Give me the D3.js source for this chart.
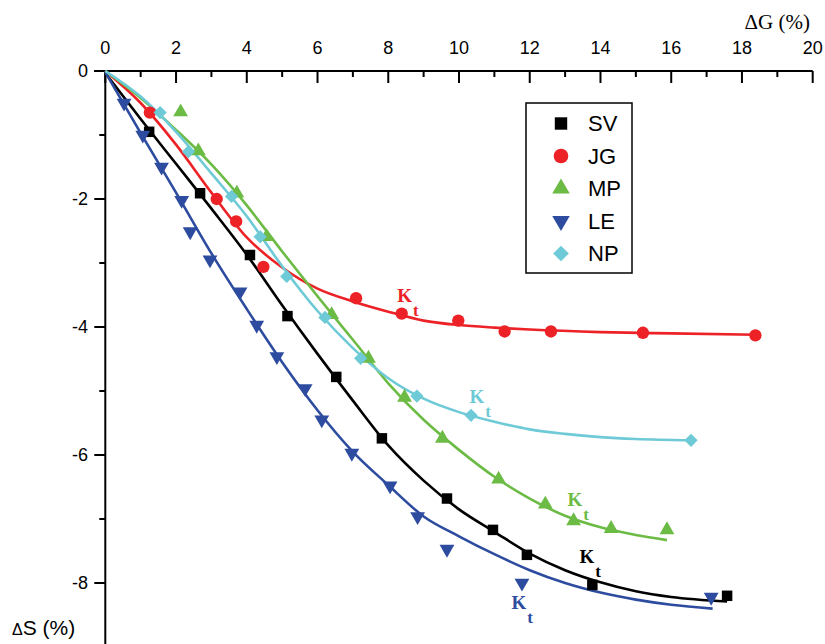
<!DOCTYPE html>
<html>
<head>
<meta charset="utf-8">
<script src="https://cdn.jsdelivr.net/npm/d3@7"></script>
<style>
  body { margin: 0; background: #fff; }
  svg { display: block; }
</style>
</head>
<body>
<div id="chart"></div>
<script>
// axes
let xTicks = [0, 2, 4, 6, 8, 10, 12, 14, 16, 18, 20];
let yTicks = [0, -2, -4, -6, -8];

// series names and colours
let names = ["SV", "JG", "MP", "LE", "NP"];
let colors = ["#000000", "#ec2227", "#6cbb45", "#2e4c9f", "#6dcad6"];

// measured points [ΔG, ΔS]
let svPoints = [[1.24,-0.95],[2.68,-1.91],[4.09,-2.875],[5.15,-3.83],[6.53,-4.78],[7.82,-5.74],[9.66,-6.68],[10.96,-7.17],[11.92,-7.56],[13.77,-8.03],[17.58,-8.2]];
let jgPoints = [[1.26,-0.65],[3.15,-2.0],[3.70,-2.35],[4.47,-3.06],[7.09,-3.55],[8.38,-3.79],[9.98,-3.9],[11.29,-4.07],[12.6,-4.07],[15.2,-4.09],[18.38,-4.13]];
let mpPoints = [[2.13,-0.64],[2.63,-1.25],[3.72,-1.91],[4.56,-2.59],[6.4,-3.81],[7.44,-4.49],[8.46,-5.1],[9.53,-5.74],[11.12,-6.38],[12.44,-6.77],[13.24,-7.03],[14.3,-7.15],[15.88,-7.17]];
let lePoints = [[0.53,-0.5],[1.06,-1.0],[1.59,-1.5],[2.16,-2.02],[2.40,-2.51],[2.96,-2.95],[3.81,-3.45],[4.28,-3.97],[4.85,-4.46],[5.65,-4.96],[6.12,-5.45],[6.97,-5.97],[8.05,-6.48],[8.83,-6.96],[9.66,-7.47],[11.78,-8.0],[17.13,-8.22]];
let npPoints = [[1.55,-0.65],[2.35,-1.26],[3.57,-1.96],[4.38,-2.59],[5.13,-3.21],[6.21,-3.85],[7.22,-4.49],[8.81,-5.08],[10.34,-5.38],[16.56,-5.77]];

// fitted curves
let svFit = [[0,-0.03],[1,-0.75],[2,-1.45],[3,-2.15],[4,-2.87],[5,-3.66],[6,-4.42],[7,-5.15],[8,-5.85],[9,-6.4],[10,-6.85],[11,-7.2],[12,-7.54],[13,-7.8],[14,-7.99],[15,-8.13],[16,-8.22],[17.58,-8.29]];
let jgFit = [[0,0],[1,-0.5],[2,-1.15],[3,-1.9],[4,-2.6],[5,-3.07],[6,-3.4],[7,-3.6],[8,-3.76],[9,-3.9],[10,-3.97],[11,-4.01],[12,-4.04],[14,-4.08],[16,-4.1],[18.4,-4.12]];
let mpFit = [[0,0],[1,-0.42],[2,-0.92],[3,-1.46],[4,-2.1],[5,-2.82],[6,-3.52],[7,-4.2],[8,-4.88],[9,-5.45],[10,-5.92],[11,-6.34],[12,-6.68],[13,-6.95],[14,-7.13],[15,-7.25],[15.88,-7.33]];
let leFit = [[0,-0.02],[1,-0.97],[2,-1.9],[3,-2.85],[4,-3.72],[5,-4.55],[6,-5.3],[7,-5.95],[8,-6.47],[9,-6.96],[10,-7.27],[11,-7.55],[12,-7.8],[13,-8.0],[14,-8.15],[15,-8.26],[16,-8.34],[17.17,-8.4]];
let npFit = [[0,0],[1,-0.4],[2,-0.95],[3,-1.6],[4,-2.27],[5,-3.05],[6,-3.75],[7,-4.33],[8,-4.8],[9,-5.12],[10,-5.33],[11,-5.48],[12,-5.6],[13,-5.67],[14,-5.72],[15,-5.75],[16.56,-5.77]];

// K_t labels, same order as names (centre of the K, data units)
let ktLabels = [[13.71,-7.59],[8.56,-3.5],[13.37,-6.69],[11.79,-8.31],[10.6,-5.09]];

let allPoints = [svPoints, jgPoints, mpPoints, lePoints, npPoints];
let allFits = [svFit, jgFit, mpFit, leFit, npFit];

let width = 825, height = 644;
let svg = d3.select("#chart").append("svg")
  .attr("width", width)
  .attr("height", height);

let x = d3.scaleLinear().domain([0, 20]).range([105.3, 812.7]);
let y = d3.scaleLinear().domain([0, -9]).range([71, 647]);

// top axis, ticks pointing into the plot
let xAxisG = svg.append("g");
xAxisG.append("line")
  .attr("x1", 94).attr("x2", x(20))
  .attr("y1", y(0)).attr("y2", y(0))
  .attr("stroke", "#000").attr("stroke-width", 2);
xAxisG.selectAll(".maj").data(xTicks).enter().append("line")
  .attr("x1", d => x(d)).attr("x2", d => x(d))
  .attr("y1", y(0)).attr("y2", y(0) + 12)
  .attr("stroke", "#000").attr("stroke-width", 2);
xAxisG.selectAll(".min").data(d3.range(1, 20, 2)).enter().append("line")
  .attr("x1", d => x(d)).attr("x2", d => x(d))
  .attr("y1", y(0)).attr("y2", y(0) + 6)
  .attr("stroke", "#000").attr("stroke-width", 2);
xAxisG.selectAll("text").data(xTicks).enter().append("text")
  .attr("x", d => x(d))
  .attr("y", 54)
  .attr("text-anchor", "middle")
  .style("font-family", "Liberation Sans, Arial, sans-serif")
  .style("font-size", "18px")
  .text(d => d);

// left axis, ticks pointing out
let yAxisG = svg.append("g");
yAxisG.append("line")
  .attr("x1", x(0)).attr("x2", x(0))
  .attr("y1", y(0)).attr("y2", height)
  .attr("stroke", "#000").attr("stroke-width", 2);
yAxisG.selectAll(".maj").data(yTicks).enter().append("line")
  .attr("x1", x(0) - 11).attr("x2", x(0))
  .attr("y1", d => y(d)).attr("y2", d => y(d))
  .attr("stroke", "#000").attr("stroke-width", 2);
yAxisG.selectAll(".min").data([-1, -3, -5, -7]).enter().append("line")
  .attr("x1", x(0) - 6).attr("x2", x(0))
  .attr("y1", d => y(d)).attr("y2", d => y(d))
  .attr("stroke", "#000").attr("stroke-width", 2);
yAxisG.selectAll("text").data(yTicks).enter().append("text")
  .attr("x", 88)
  .attr("y", d => y(d))
  .attr("dy", "0.35em")
  .attr("text-anchor", "end")
  .style("font-family", "Liberation Sans, Arial, sans-serif")
  .style("font-size", "18px")
  .text(d => d);

// axis titles
svg.append("text")
  .attr("x", 810).attr("y", 29)
  .attr("text-anchor", "end")
  .style("font-family", "Liberation Serif, Times New Roman, serif")
  .style("font-size", "21px")
  .text("ΔG (%)");
let ds = svg.append("text")
  .attr("x", 12).attr("y", 635)
  .style("font-family", "Liberation Sans, Arial, sans-serif")
  .style("font-size", "21px");
ds.append("tspan").style("font-size", "16px").text("Δ");
ds.append("tspan").text("S (%)");

// fitted lines
let line = d3.line()
  .x(d => x(d[0]))
  .y(d => y(d[1]))
  .curve(d3.curveMonotoneX);

for (let i = 0; i < allFits.length; i++) {
  svg.append("path")
    .attr("d", line(allFits[i]))
    .attr("fill", "none")
    .attr("stroke", colors[i])
    .attr("stroke-width", 2.6);
}

// marker shapes
function markerPath(i, big) {
  let k = big ? 1.4 : 1;
  if (i == 0) return d3.symbol(d3.symbolSquare, 110 * k)();
  if (i == 1) return d3.symbol(d3.symbolCircle, 120 * k)();
  if (i == 2 || i == 3) return d3.symbol(d3.symbolTriangle, 95 * k)();
  return d3.symbol(d3.symbolSquare, 88 * k)();
}
function markerRot(i) {
  if (i == 3) return " rotate(180)";
  if (i == 4) return " rotate(45)";
  return "";
}

for (let i = 0; i < allPoints.length; i++) {
  svg.append("g").selectAll("path").data(allPoints[i]).enter().append("path")
    .attr("d", markerPath(i, false))
    .attr("transform", d => "translate(" + x(d[0]) + "," + y(d[1]) + ")" + markerRot(i))
    .attr("fill", colors[i]);
}

// K_t annotations
for (let i = 0; i < ktLabels.length; i++) {
  let t = svg.append("text")
    .attr("x", x(ktLabels[i][0]))
    .attr("y", y(ktLabels[i][1]))
    .attr("dy", "0.35em")
    .attr("text-anchor", "middle")
    .attr("fill", colors[i])
    .style("font-family", "Liberation Serif, Times New Roman, serif")
    .style("font-weight", "bold")
    .style("font-size", "19px");
  t.append("tspan").text("K");
  t.append("tspan").attr("dx", "1").attr("dy", "14").style("font-size", "17px").text("t");
}

// legend
let legend = svg.append("g");
legend.append("rect")
  .attr("x", 526).attr("y", 103)
  .attr("width", 106).attr("height", 170)
  .attr("fill", "#fff")
  .attr("stroke", "#000")
  .attr("stroke-width", 1.5);
for (let i = 0; i < names.length; i++) {
  let ly = 123.5 + i * 32.5;
  legend.append("path")
    .attr("d", markerPath(i, true))
    .attr("transform", "translate(561," + ly + ")" + markerRot(i))
    .attr("fill", colors[i]);
  legend.append("text")
    .attr("x", 588).attr("y", ly)
    .attr("dy", "0.36em")
    .style("font-family", "Liberation Sans, Arial, sans-serif")
    .style("font-size", "22px")
    .text(names[i]);
}
</script>
</body>
</html>
